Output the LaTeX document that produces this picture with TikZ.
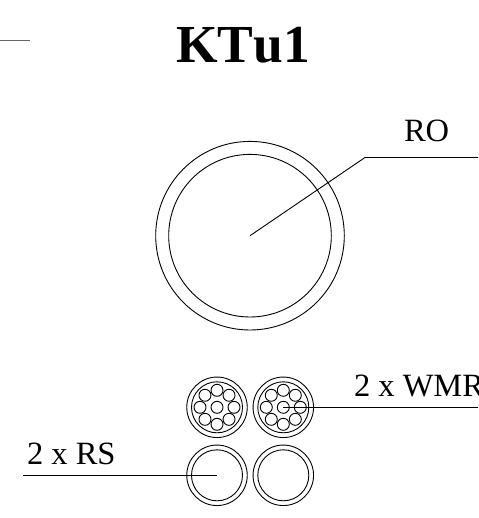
\documentclass[tikz,border=0pt]{standalone}
\usepackage{fontspec}
\setmainfont[Kerning=Off]{Liberation Serif}
\usetikzlibrary{calc}
\tikzset{
  wire/.style={draw=black,line width=0.9pt},
  ring/.style={circle,draw=black,line width=0.9pt,inner sep=0pt,outer sep=0pt},
  lab/.style={inner sep=0pt,outer sep=0pt,anchor=base west,font=\fontsize{32.5}{32.5}\selectfont,text=black},
}
\newcommand{\strandset}[1]{%
  \node[ring,minimum size=60.5pt] at (#1) {};
  \node[ring,minimum size=51pt] at (#1) {};
  \node[ring,minimum size=12pt] at (#1) {};
  \foreach \a in {0,45,...,315}{
    \node[ring,minimum size=12pt] at ($(#1)+(\a:17)$) {};
  }
}
\begin{document}
\begin{tikzpicture}[x=1pt,y=-1pt]
\useasboundingbox (0,0) rectangle (478,518);
\clip (0,0) rectangle (478,518);
% title and top-left stub
\node[inner sep=0pt,anchor=base west,font=\fontsize{53.5}{53.5}\selectfont\bfseries] (title) at (176,62.5) {KTu1};
\coordinate (stubA) at (0,40.5);
\coordinate (stubB) at (29.5,40.5);
\draw[draw=black!60,line width=0.9pt] (stubA) -- (stubB);
% large conductor
\node[ring,minimum size=188.6pt] (roOuter) at (250,235.7) {};
\node[ring,minimum size=162.6pt] (roInner) at (250,235.7) {};
\node[lab] (roLabel) at (404,141.7) {RO};
\coordinate (roBend) at (365,157.5);
\coordinate (roEnd) at (478,157.5);
\draw[wire] (roInner.center) -- (roBend) -- (roEnd);
% stranded cables
\coordinate (wmrA) at (217,407.3);
\coordinate (wmrB) at (283.3,407.3);
\strandset{wmrA}
\strandset{wmrB}
% solid cables
\node[ring,minimum size=60.5pt] (rsAo) at (217,475.3) {};
\node[ring,minimum size=51pt] (rsAi) at (217,475.3) {};
\node[ring,minimum size=60.5pt] (rsBo) at (283.3,475.3) {};
\node[ring,minimum size=51pt] (rsBi) at (283.3,475.3) {};
% labels and leaders
\node[lab] (wmrLabel) at (354,396.5) {2 x WMR};
\coordinate (wmrEnd) at (478,407.3);
\draw[wire] (wmrB) -- (wmrEnd);
\node[lab] (rsLabel) at (27,464.3) {2 x RS};
\coordinate (rsStart) at (23,475.3);
\draw[wire] (rsStart) -- (rsAo.center);
\end{tikzpicture}
\end{document}
